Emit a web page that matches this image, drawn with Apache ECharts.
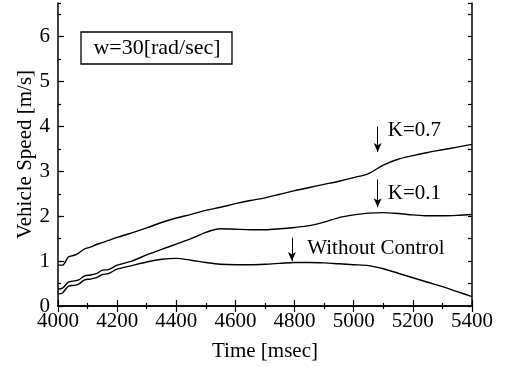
<!DOCTYPE html>
<html>
<head>
<meta charset="utf-8">
<script src="https://cdn.jsdelivr.net/npm/echarts@6/dist/echarts.min.js"></script>
<style>html,body{margin:0;padding:0;background:#fff}#c{width:509px;height:367px}</style>
</head>
<body>
<div id="c"></div>
<script>
var times = [4000,4015,4035,4055,4070,4090,4110,4130,4150,4170,4200,4250,4300,4350,4400,4450,4500,4550,4600,4650,4700,4750,4800,4850,4900,4950,5000,5050,5100,5150,5200,5250,5300,5350,5400];
var k07 = [0.91,0.91,1.09,1.13,1.18,1.27,1.31,1.37,1.41,1.46,1.53,1.63,1.74,1.86,1.96,2.04,2.13,2.20,2.28,2.35,2.41,2.49,2.57,2.64,2.71,2.78,2.86,2.95,3.14,3.27,3.35,3.42,3.48,3.54,3.60];
var k01 = [0.38,0.40,0.53,0.56,0.58,0.67,0.69,0.72,0.80,0.81,0.91,1.00,1.14,1.26,1.38,1.50,1.64,1.72,1.71,1.70,1.70,1.72,1.75,1.79,1.87,1.97,2.03,2.07,2.08,2.06,2.03,2.01,2.01,2.02,2.04];
var noCtrl = [0.27,0.29,0.44,0.46,0.49,0.58,0.60,0.63,0.70,0.72,0.82,0.90,0.98,1.04,1.06,1.02,0.97,0.93,0.92,0.92,0.93,0.95,0.97,0.97,0.96,0.94,0.92,0.90,0.83,0.73,0.63,0.53,0.43,0.32,0.21];
var xTitle = 'Time [msec]';
var yTitle = 'Vehicle Speed [m/s]';
var boxText = 'w=30[rad/sec]';
var annotations = [
  {text:'K=0.7', x:5081, yFrom:4.0, yTo:3.43, tx:5115, ty:3.9},
  {text:'K=0.1', x:5081, yFrom:2.82, yTo:2.2, tx:5115, ty:2.5},
  {text:'Without Control', x:4791, yFrom:1.52, yTo:1.0, tx:4843, ty:1.28}
];

var FONT = 'Liberation Serif';
var chart = echarts.init(document.getElementById('c'));
function pairs(v){ return times.map(function(t,i){return [t, v[i]];}); }
function arrowMark(a){
  return {silent:true, symbol:['none','arrow'], symbolSize:[6,9], label:{show:false},
    lineStyle:{color:'#000', width:1, type:'solid'},
    data:[[{coord:[a.x,a.yFrom]},{coord:[a.x,a.yTo]}]]};
}
var lineStyle = {color:'#000', width:1.4};
var option = {
  animation:false,
  grid:{left:58, right:37, top:3, bottom:60},
  xAxis:[{
    type:'value', min:4000, max:5400, interval:200, position:'bottom',
    name:xTitle, nameLocation:'middle', nameGap:35,
    nameTextStyle:{fontFamily:FONT, fontSize:21, color:'#000'},
    axisLine:{lineStyle:{color:'#000', width:1.5}},
    axisTick:{inside:true, length:6, lineStyle:{color:'#000', width:1.2}},
    minorTick:{show:true, splitNumber:2, length:3, lineStyle:{color:'#000', width:1.2}},
    axisLabel:{fontFamily:FONT, fontSize:21, color:'#000', margin:5, formatter:function(v){return String(v);}},
    splitLine:{show:false}
  },{
    type:'value', min:4000, max:5400, interval:200, position:'top',
    axisLine:{lineStyle:{color:'#000', width:1.5}},
    axisTick:{inside:true, length:6, lineStyle:{color:'#000', width:1.2}},
    minorTick:{show:true, splitNumber:2, length:3, lineStyle:{color:'#000', width:1.2}},
    axisLabel:{show:false}, splitLine:{show:false}
  }],
  yAxis:[{
    type:'value', min:0, max:6.75, interval:1, position:'left',
    name:yTitle, nameLocation:'middle', nameGap:22, nameRotate:90, nameMoveOverlap:false,
    nameTextStyle:{fontFamily:FONT, fontSize:21, color:'#000'},
    axisLine:{show:true, lineStyle:{color:'#000', width:1.5}},
    axisTick:{show:true, inside:true, length:6, lineStyle:{color:'#000', width:1.2}},
    axisLabel:{fontFamily:FONT, fontSize:21, color:'#000', margin:8, showMaxLabel:false},
    splitLine:{show:false}
  },{
    type:'value', min:0, max:6.75, interval:0.5, position:'left',
    axisLine:{show:false},
    axisTick:{show:true, inside:true, length:3, lineStyle:{color:'#000', width:1.2}},
    axisLabel:{show:false}, splitLine:{show:false}
  },{
    type:'value', min:0, max:6.75, interval:0.5, position:'right',
    axisLine:{show:true, lineStyle:{color:'#000', width:1.5}},
    axisTick:{show:true, inside:true, length:4, lineStyle:{color:'#000', width:1.2}},
    axisLabel:{show:false}, splitLine:{show:false}
  }],
  series:[
    {type:'line', name:'K=0.7', data:pairs(k07), showSymbol:false, smooth:0.3, lineStyle:lineStyle, markLine:arrowMark(annotations[0])},
    {type:'line', name:'K=0.1', data:pairs(k01), showSymbol:false, smooth:0.3, lineStyle:lineStyle, markLine:arrowMark(annotations[1])},
    {type:'line', name:'Without Control', data:pairs(noCtrl), showSymbol:false, smooth:0.3, lineStyle:lineStyle, markLine:arrowMark(annotations[2])}
  ]
};
chart.setOption(option);
var g = [];
annotations.forEach(function(a){
  var p = chart.convertToPixel({xAxisIndex:0, yAxisIndex:0}, [a.tx, a.ty]);
  g.push({type:'text', x:p[0], y:p[1], style:{text:a.text, font:'21px "Liberation Serif"', fill:'#000', textAlign:'left', textVerticalAlign:'middle'}});
});
g.push({type:'rect', shape:{x:81, y:32, width:151, height:32}, style:{fill:'#fff', stroke:'#000', lineWidth:1.3}});
g.push({type:'text', x:157, y:48, style:{text:boxText, font:'22px "Liberation Serif"', fill:'#000', textAlign:'center', textVerticalAlign:'middle'}});
chart.setOption({graphic:g});
</script>
</body>
</html>
